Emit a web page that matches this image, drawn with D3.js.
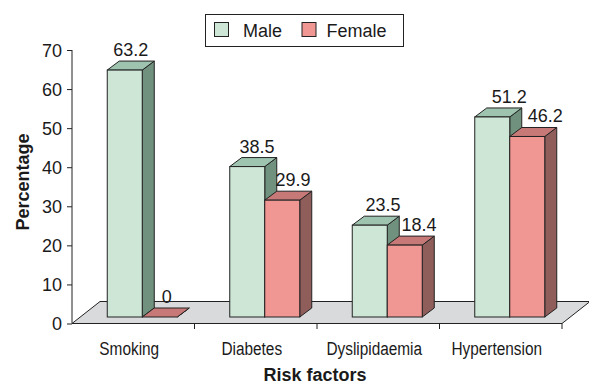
<!DOCTYPE html>
<html>
<head>
<meta charset="utf-8">
<script src="https://cdn.jsdelivr.net/npm/d3@7"></script>
<style>
  html, body { margin: 0; padding: 0; background: #fff; }
  svg { display: block; }
  text { font-family: "Liberation Sans", Arial, Helvetica, sans-serif; fill: #1a1a1a; }
</style>
</head>
<body>
<svg id="chart" width="589" height="385"></svg>
<script>
// Prevalence of risk factors by sex (%)
const categories = ["Smoking", "Diabetes", "Dyslipidaemia", "Hypertension"];
const seriesNames = ["Male", "Female"];
const maleValues = [63.2, 38.5, 23.5, 51.2];
const femaleValues = [0, 29.9, 18.4, 46.2];
const yTickValues = [0, 10, 20, 30, 40, 50, 60, 70];

const palette = {
  Male:   { front: "#cde6d6", top: "#9ec3af", side: "#6f917d" },
  Female: { front: "#f09793", top: "#c67977", side: "#8f5e5b" }
};

const svg = d3.select("#chart");
const ink = "#222";

const plot = { left: 72, right: 562, bottom: 323.5, top: 50 };
const floorDepth = { dx: 28, dy: -22 };   // receding floor
const barShift = { dx: 9, dy: -6.5 };     // bars stand back from the front edge
const barDepth = { dx: 12, dy: -9 };      // 3D thickness of each column

const y = d3.scaleLinear().domain([0, 70]).range([plot.bottom, plot.top]);
const x0 = d3.scaleBand().domain(categories).range([plot.left, plot.right]);
const x1 = d3.scaleBand().domain(seriesNames).range([0, x0.bandwidth()]).paddingOuter(0.75);

// labels drift slightly rightward across the plot (mild perspective)
const labelShift = d3.scaleLinear().domain([124, 527]).range([6, 18]);

const rows = categories.map((c, i) => ({
  category: c,
  values: [
    { series: "Male", value: maleValues[i] },
    { series: "Female", value: femaleValues[i] }
  ]
}));

// Floor
svg.append("polygon")
  .attr("points", [
    [plot.left, plot.bottom],
    [plot.right, plot.bottom],
    [plot.right + floorDepth.dx, plot.bottom + floorDepth.dy],
    [plot.left + floorDepth.dx, plot.bottom + floorDepth.dy]
  ].map(p => p.join(",")).join(" "))
  .attr("fill", "#d9dadc")
  .attr("stroke", ink)
  .attr("stroke-width", 1);

// Y axis
const yAxis = d3.axisLeft(y).tickValues(yTickValues).tickSize(5).tickPadding(5);
const gy = svg.append("g").attr("transform", `translate(${plot.left},0)`).call(yAxis);
gy.select(".domain").attr("stroke", ink).attr("d", `M-0,${y(70)}V${plot.bottom}`);
gy.selectAll(".tick line").attr("stroke", ink);
gy.selectAll(".tick text")
  .attr("font-size", 18)
  .attr("font-family", "'Liberation Sans', Arial, sans-serif")
  .attr("fill", "#1a1a1a")
  .attr("dy", "0.36em");

// X axis: front edge of the floor with ticks between categories
const xTicks = categories.slice(1).map(c => x0(c)).concat([plot.right]);
svg.append("g").selectAll("line").data(xTicks).join("line")
  .attr("x1", d => d).attr("x2", d => d)
  .attr("y1", plot.bottom).attr("y2", plot.bottom + 5.5)
  .attr("stroke", ink);

// Category names, set in a condensed face
svg.append("g").selectAll("text").data(categories).join("text")
  .attr("transform", d => `translate(${x0(d) + x0.bandwidth() / 2 - 4},354.5) scale(0.81,1)`)
  .attr("text-anchor", "middle")
  .attr("font-size", 19)
  .text(d => d);

// Columns
const bars = svg.append("g");
const labels = svg.append("g");
rows.forEach(row => {
  row.values.forEach(d => {
    const c = palette[d.series];
    const xl = x0(row.category) + x1(d.series) + barShift.dx;
    const xr = xl + x1.bandwidth();
    const yb = y(0) + barShift.dy;
    const yt = y(d.value) + barShift.dy;
    const g = bars.append("g");
    // side face
    g.append("polygon")
      .attr("points", [[xr, yb], [xr + barDepth.dx, yb + barDepth.dy], [xr + barDepth.dx, yt + barDepth.dy], [xr, yt]].map(p => p.join(",")).join(" "))
      .attr("fill", c.side).attr("stroke", ink).attr("stroke-width", 1).attr("stroke-linejoin", "round");
    // top face
    g.append("polygon")
      .attr("points", [[xl, yt], [xl + barDepth.dx, yt + barDepth.dy], [xr + barDepth.dx, yt + barDepth.dy], [xr, yt]].map(p => p.join(",")).join(" "))
      .attr("fill", c.top).attr("stroke", ink).attr("stroke-width", 1).attr("stroke-linejoin", "round");
    // front face
    if (yb - yt > 0) {
      g.append("rect")
        .attr("x", xl).attr("y", yt)
        .attr("width", xr - xl).attr("height", yb - yt)
        .attr("fill", c.front).attr("stroke", ink).attr("stroke-width", 1);
    }
    // value label
    const xc = (xl + xr) / 2;
    labels.append("text")
      .attr("x", xc + labelShift(xc))
      .attr("y", yt - 14)
      .attr("text-anchor", "middle")
      .attr("font-size", 18)
      .text(d.value);
  });
});

// Axis titles
svg.append("text")
  .attr("transform", `translate(29,${182}) rotate(-90)`)
  .attr("text-anchor", "middle")
  .attr("font-size", 18)
  .attr("font-weight", "bold")
  .text("Percentage");

svg.append("text")
  .attr("x", 315)
  .attr("y", 381)
  .attr("text-anchor", "middle")
  .attr("font-size", 18)
  .attr("font-weight", "bold")
  .text("Risk factors");

// Legend
const legend = svg.append("g");
legend.append("rect")
  .attr("x", 205.5).attr("y", 14.5).attr("width", 198).attr("height", 32)
  .attr("fill", "#fff").attr("stroke", ink).attr("stroke-width", 1);
const legendItems = [
  { name: "Male", sx: 214.5, tx: 243 },
  { name: "Female", sx: 302, tx: 326.5 }
];
legendItems.forEach(it => {
  legend.append("rect")
    .attr("x", it.sx).attr("y", 22.5).attr("width", 14).attr("height", 14)
    .attr("fill", palette[it.name].front).attr("stroke", ink).attr("stroke-width", 1);
  legend.append("text")
    .attr("x", it.tx).attr("y", 37)
    .attr("font-size", 18)
    .text(it.name);
});
</script>
</body>
</html>
